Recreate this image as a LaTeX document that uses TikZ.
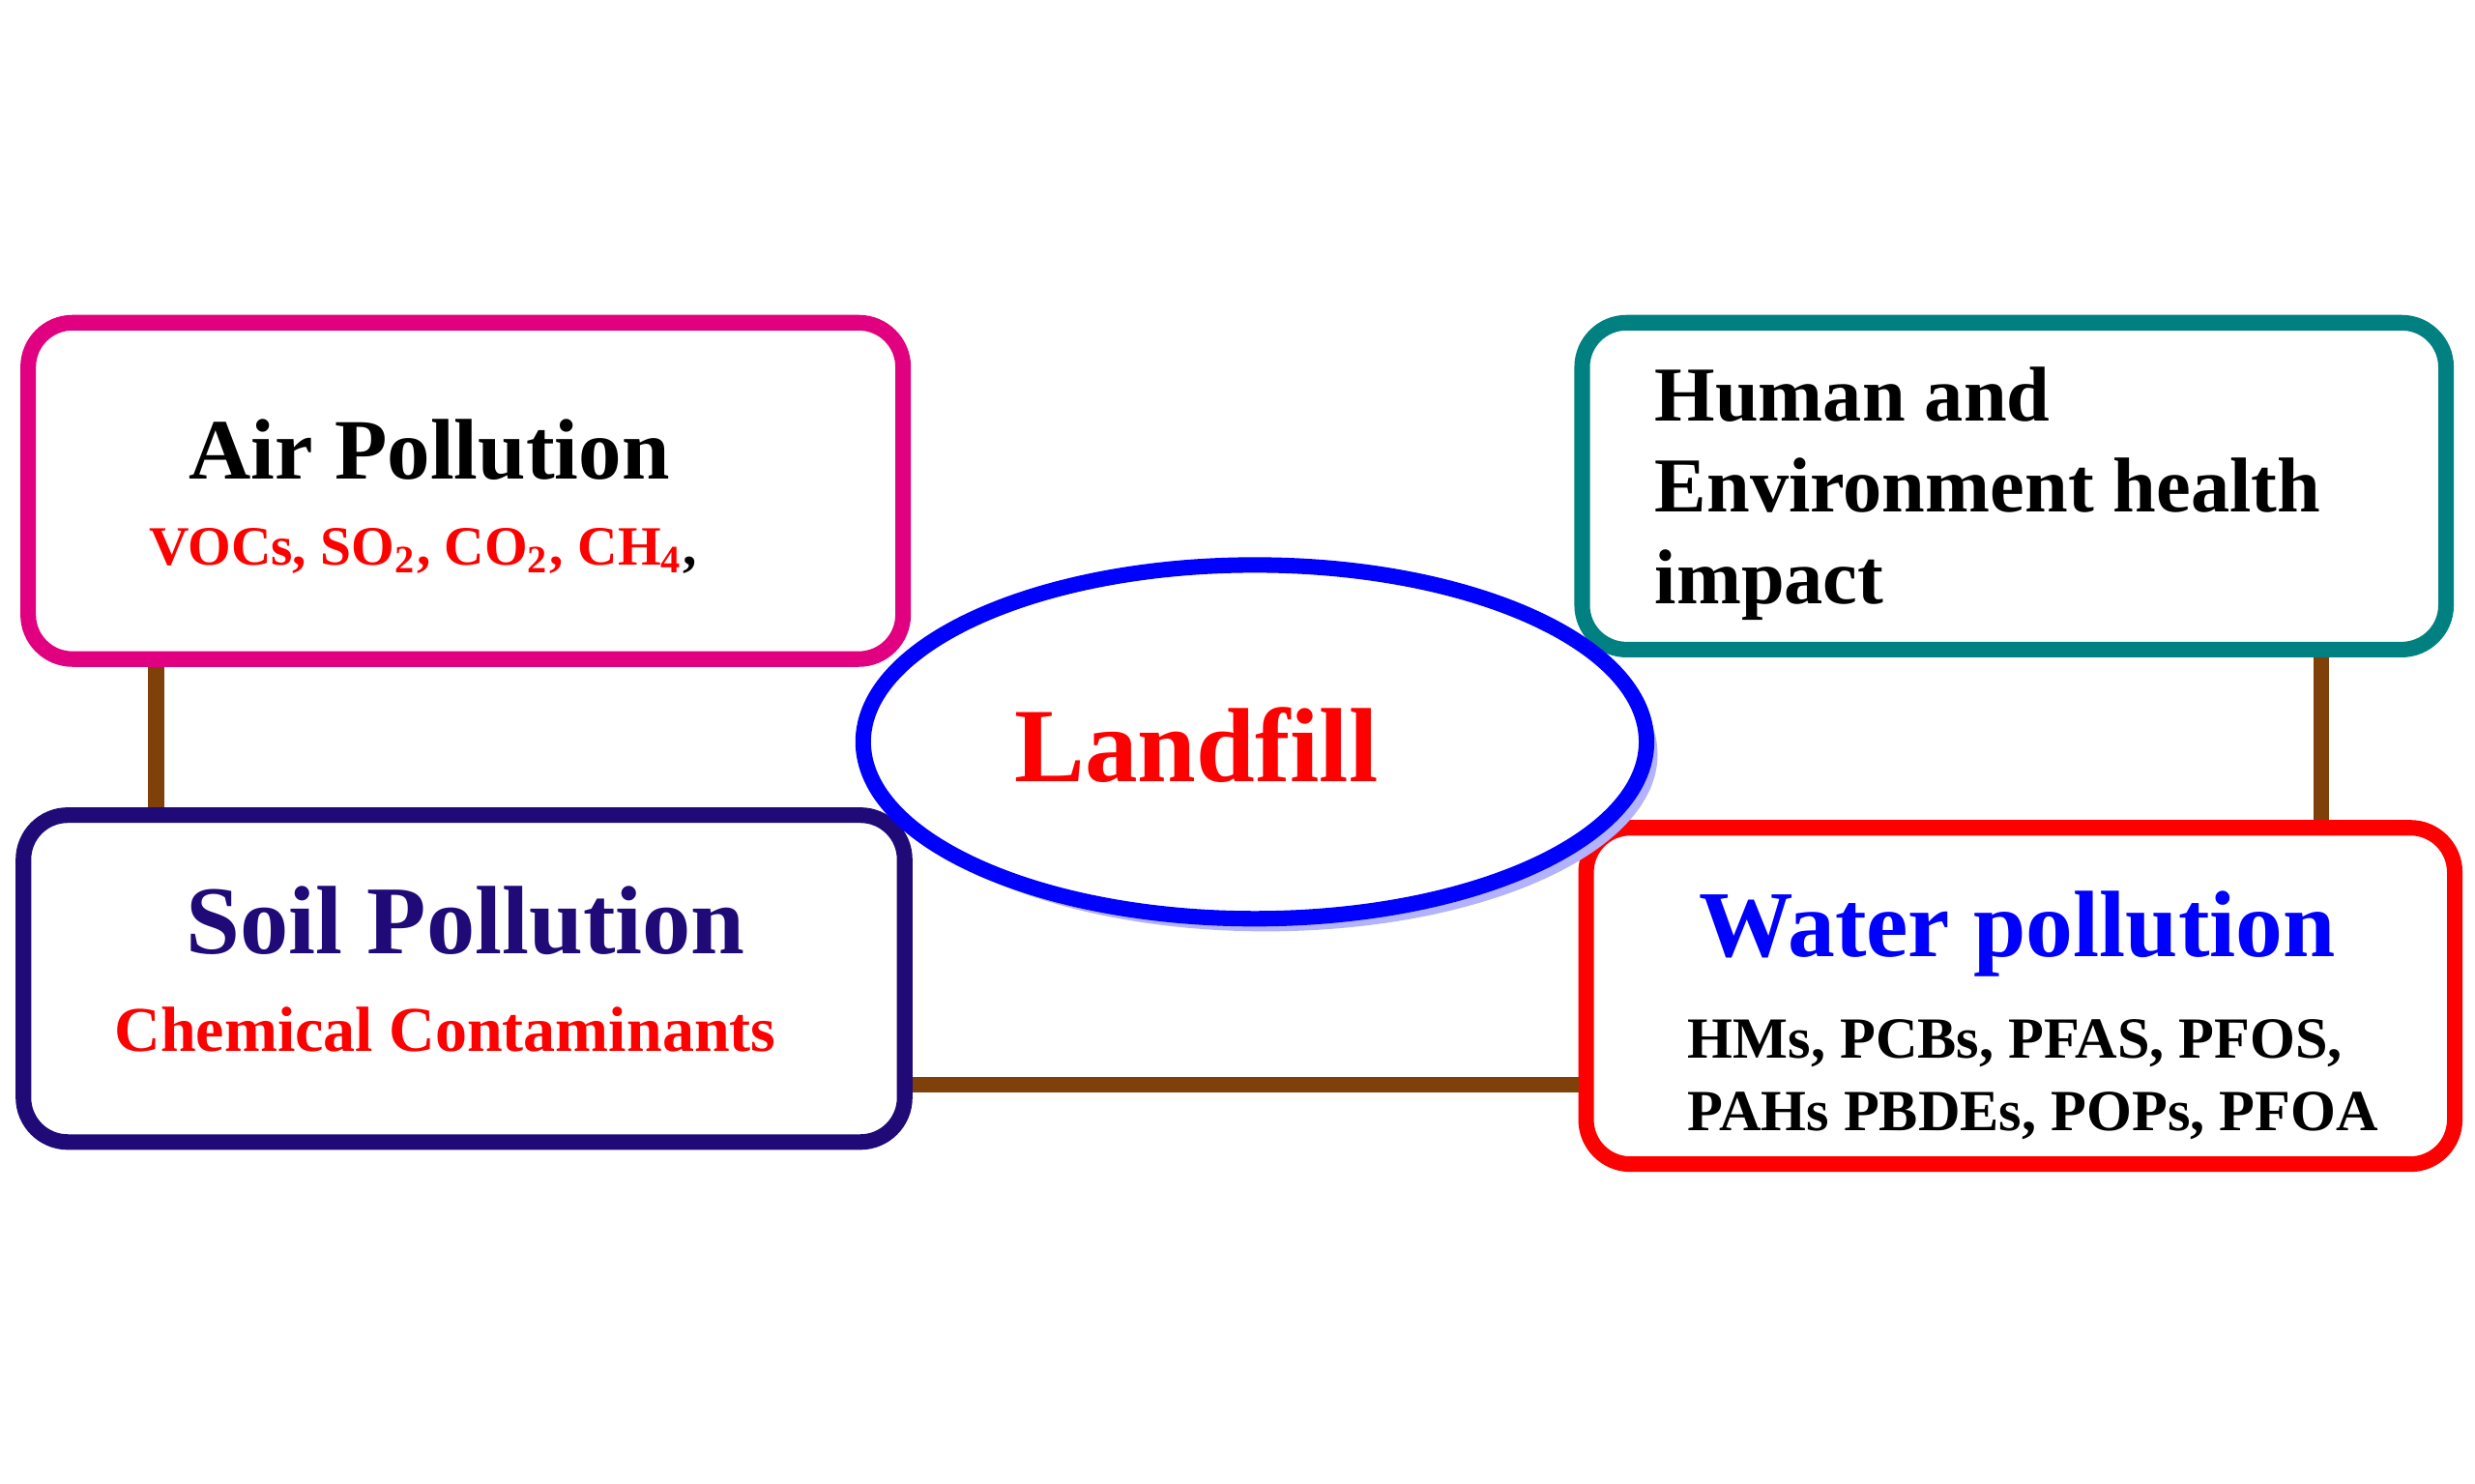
\documentclass[tikz,border=0pt]{standalone}
\usepackage{fontspec}
\setmainfont{Liberation Serif}
\usetikzlibrary{shapes.geometric}
\definecolor{airpink}{RGB}{224,0,128}
\definecolor{humanteal}{RGB}{0,128,128}
\definecolor{soilblue}{RGB}{31,10,120}
\definecolor{linkbrown}{RGB}{128,64,10}
\begin{document}
\begin{tikzpicture}[x=0.01cm,y=-0.01cm,
  panel/.style={draw,line width=2.8pt,rounded corners=8pt,fill=white},
  link/.style={draw=linkbrown,line width=2.8pt}]
\useasboundingbox (0,0) rectangle (1568,940);
\node [panel,draw=airpink,minimum width=5.54cm,minimum height=2.13cm] (air) at (295,311) {};
\node [panel,draw=humanteal,minimum width=5.47cm,minimum height=2.07cm] (human) at (1276,308) {};
\node [panel,draw=soilblue,minimum width=5.58cm,minimum height=2.07cm] (soil) at (294,620) {};
\node [panel,draw=red,minimum width=5.5cm,minimum height=2.13cm] (water) at (1280,631) {};
% ellipse with soft shadow
\node [ellipse,fill=blue!30,minimum width=4.96cm,minimum height=2.24cm] at (802,478) {};
\node [ellipse,draw=blue,line width=2.8pt,fill=white,minimum width=4.96cm,minimum height=2.24cm] (land) at (795,470) {};
\node [text=red,font=\bfseries\fontsize{19}{22}\selectfont] at (758,472) {Landfill};
% labels
\node [font=\bfseries\fontsize{15.5}{18}\selectfont] (airt) at (272,285) {Air Pollution};
\node [text=red,font=\bfseries\fontsize{10}{12}\selectfont] (airs) at (268,349) {VOCs, SO\textsubscript{2}, CO\textsubscript{2}, CH\textsubscript{4}\textcolor{black}{,}};
\node [font=\bfseries\fontsize{14}{16.5}\selectfont,align=left,anchor=north west] (humant) at (1036,220) {Human and\\Environment health\\impact};
\node [text=soilblue,font=\bfseries\fontsize{17.5}{21}\selectfont] (soilt) at (295,583) {Soil Pollution};
\node [text=red,font=\bfseries\fontsize{11.5}{13}\selectfont] (soils) at (282,652) {Chemical Contaminants};
\node [text=blue,font=\bfseries\fontsize{17}{20}\selectfont] (watert) at (1278,592) {Water pollution};
\node [font=\bfseries\fontsize{10.5}{13}\selectfont,align=left] (waters) at (1288,684) {HMs, PCBs, PFAS, PFOS,\\PAHs PBDEs, POPs, PFOA};
% links
\draw [link] (air.south west) ++(86,0) coordinate (a1) -- (a1 |- soil.north);
\draw [link] (human.south east) ++(-84,0) coordinate (h1) -- (h1 |- water.north);
\draw [link] (soil.east |- 0,687) -- (water.west |- 0,687);
\end{tikzpicture}
\end{document}
